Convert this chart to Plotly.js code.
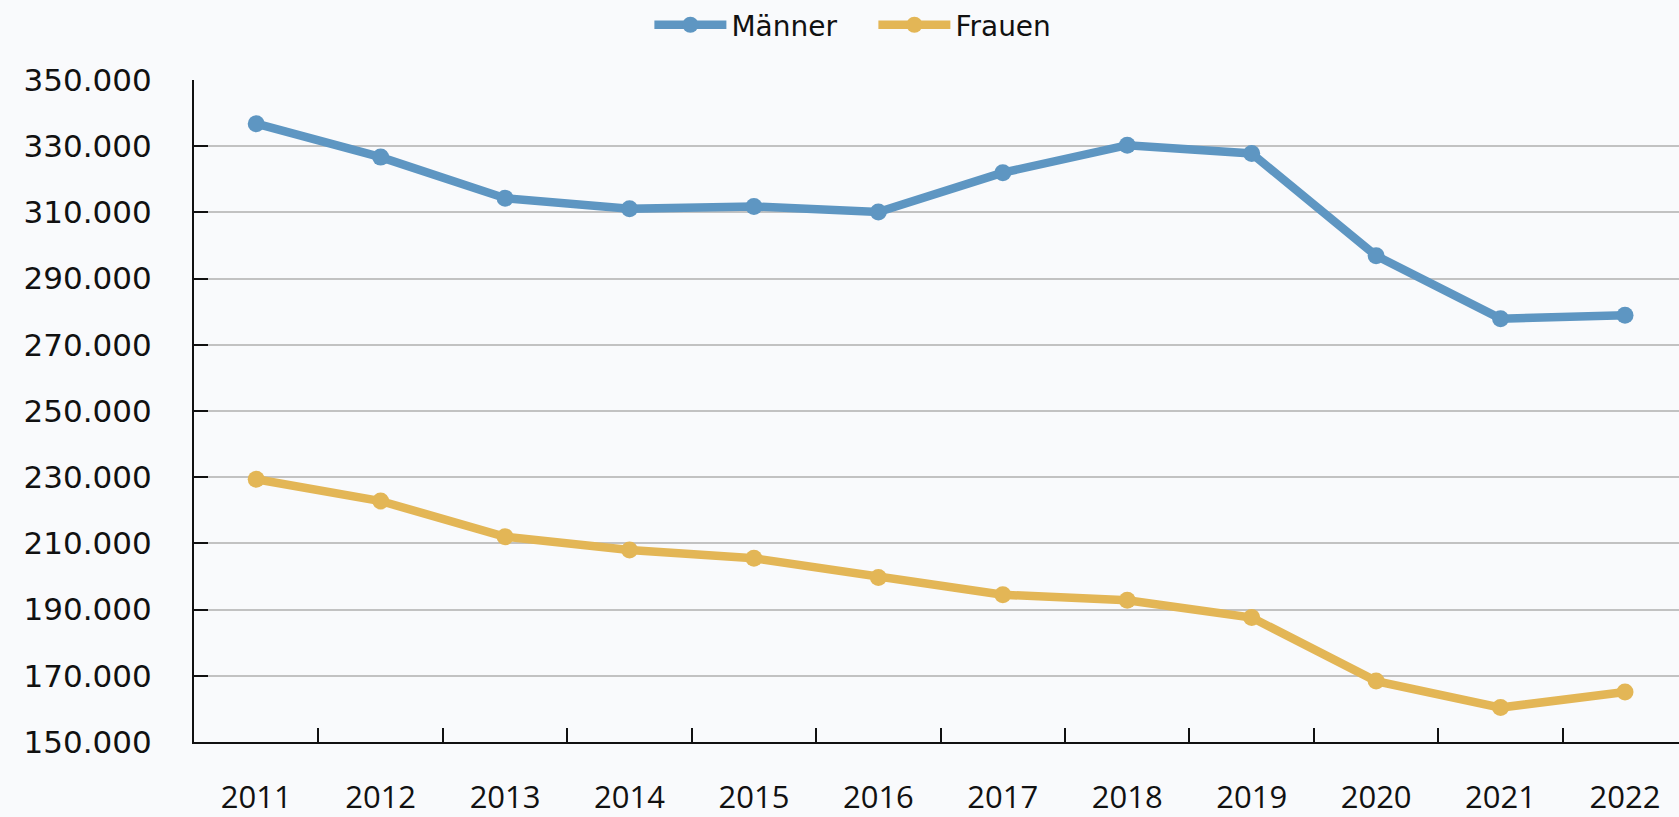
<!DOCTYPE html>
<html>
<head>
<meta charset="utf-8">
<script src="https://cdn.plot.ly/plotly-3.0.1.min.js"></script>
<style>
html,body{margin:0;padding:0;background:#f9fafc;overflow:hidden;}
#chart{width:1679px;height:817px;}
</style>
</head>
<body>
<div id="chart"></div>
<script>
const years = ["2011","2012","2013","2014","2015","2016","2017","2018","2019","2020","2021","2022"];
const maenner = [336800, 326700, 314300, 311100, 311800, 310100, 322000, 330300, 327800, 296900, 277900, 278900];
const frauen  = [229400, 222800, 212000, 208000, 205500, 199700, 194500, 192800, 187600, 168400, 160400, 165100];
const seriesNames = ["Männer", "Frauen"];
const yTicks = [150000,170000,190000,210000,230000,250000,270000,290000,310000,330000,350000];

const traces = [
  {x: years, y: maenner, name: seriesNames[0], type: "scatter", mode: "lines+markers",
   line: {color: "#5e96c2", width: 8.5}, marker: {color: "#5e96c2", size: 17}},
  {x: years, y: frauen, name: seriesNames[1], type: "scatter", mode: "lines+markers",
   line: {color: "#e3b656", width: 8.5}, marker: {color: "#e3b656", size: 17}}
];

const layout = {
  width: 1679, height: 817,
  paper_bgcolor: "#f9fafc", plot_bgcolor: "#f9fafc",
  margin: {l: 194, r: 0, t: 78, b: 75, pad: 0},
  separators: ",.",
  showlegend: true,
  legend: {orientation: "h", x: 0.4575, xanchor: "center", y: 1.083, yanchor: "middle",
           itemwidth: 72, entrywidth: 137, entrywidthmode: "pixels",
           font: {family: "DejaVu Sans", size: 28, color: "#111"}, bgcolor: "rgba(0,0,0,0)"},
  xaxis: {
    type: "category", range: [-0.5, 11.434], fixedrange: true,
    showgrid: false, zeroline: false,
    showline: true, linecolor: "#111", linewidth: 2,
    ticks: "inside", tickson: "boundaries", ticklen: 14, tickwidth: 2, tickcolor: "#111",
    tickfont: {family: "Open Sans", size: 31, color: "#111"},
    ticklabelstandoff: 27
  },
  yaxis: {
    range: [150000, 350000], fixedrange: true,
    tickvals: yTicks, tickformat: ",d",
    showgrid: true, gridcolor: "#c2c2c2", gridwidth: 2, zeroline: false,
    showline: true, linecolor: "#111", linewidth: 2,
    ticks: "inside", ticklen: 14, tickwidth: 2, tickcolor: "#111",
    tickfont: {family: "DejaVu Sans", size: 31, color: "#111"},
    ticklabelstandoff: 34
  }
};

Plotly.newPlot("chart", traces, layout, {displayModeBar: false, staticPlot: true});
</script>
</body>
</html>
